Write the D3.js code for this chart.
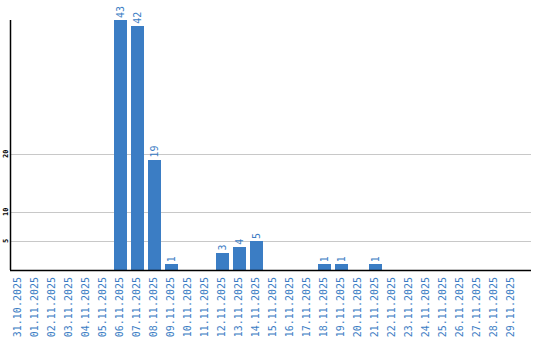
<!DOCTYPE html>
<html>
<head>
<meta charset="utf-8">
<script src="https://cdn.jsdelivr.net/npm/d3@7"></script>
<style>
  body { margin: 0; background: #fff; }
  svg { display: block; }
</style>
</head>
<body>
<svg id="chart" width="540" height="340"></svg>
<script>
// daily counts, 31.10.2025 - 29.11.2025
var days = ["31.10.2025", "01.11.2025", "02.11.2025", "03.11.2025", "04.11.2025", "05.11.2025",
	"06.11.2025", "07.11.2025", "08.11.2025", "09.11.2025", "10.11.2025", "11.11.2025",
	"12.11.2025", "13.11.2025", "14.11.2025", "15.11.2025", "16.11.2025", "17.11.2025",
	"18.11.2025", "19.11.2025", "20.11.2025", "21.11.2025", "22.11.2025", "23.11.2025",
	"24.11.2025", "25.11.2025", "26.11.2025", "27.11.2025", "28.11.2025", "29.11.2025"];
var counts = [0, 0, 0, 0, 0, 0,
	43, 42, 19, 1, 0, 0,
	3, 4, 5, 0, 0, 0,
	1, 1, 0, 1, 0, 0,
	0, 0, 0, 0, 0, 0];
var yTicks = [5, 10, 20];

var blue = "#3b7dc4";
var svg = d3.select('#chart');
// note: "top" is window.top, so use plotTop
var plotLeft = 10, plotRight = 531, bandEnd = 520, plotTop = 20, plotBottom = 270;

var x = d3.scaleBand()
	.domain(days)
	.range([plotLeft, bandEnd])
	.paddingInner(0.18)
	.paddingOuter(0.09);

var y = d3.scaleLinear()
	.domain([0, d3.max(counts)])
	.range([plotBottom, plotTop]);

// gridlines
svg.append('g').selectAll('line')
	.data(yTicks)
	.join('line')
	.attr('x1', plotLeft)
	.attr('x2', plotRight)
	.attr('y1', d => Math.round(y(d)) + 0.5)
	.attr('y2', d => Math.round(y(d)) + 0.5)
	.style('stroke', '#c8c8c8')
	.style('stroke-width', 1);

// y tick labels (rotated, tiny)
svg.append('g').selectAll('text')
	.data(yTicks)
	.join('text')
	.attr('transform', d => `translate(5.5, ${y(d)}) rotate(-90)`)
	.attr('text-anchor', 'middle')
	.attr('dominant-baseline', 'central')
	.style('font-family', 'DejaVu Sans Mono')
	.style('font-size', '7px')
	.style('font-weight', 'bold')
	.style('fill', '#000')
	.text(d => d);

// bars
svg.append('g').selectAll('rect')
	.data(counts)
	.join('rect')
	.attr('x', (d, i) => x(days[i]))
	.attr('width', x.bandwidth())
	.attr('y', d => y(d))
	.attr('height', d => plotBottom - y(d))
	.style('fill', blue)
	.attr('shape-rendering', 'crispEdges');

// value labels above bars
svg.append('g').selectAll('text')
	.data(counts.map((c, i) => ({ day: days[i], c: c })).filter(d => d.c > 0))
	.join('text')
	.attr('transform', d => `translate(${x(d.day) + x.bandwidth() / 2}, ${y(d.c) - 2}) rotate(-90)`)
	.attr('text-anchor', 'start')
	.attr('dominant-baseline', 'central')
	.style('font-family', 'DejaVu Sans Mono')
	.style('font-size', '10px')
	.style('fill', blue)
	.text(d => d.c);

// axis lines
svg.append('line')
	.attr('x1', plotLeft + 0.5).attr('x2', plotLeft + 0.5)
	.attr('y1', plotTop).attr('y2', plotBottom)
	.style('stroke', '#000').style('stroke-width', 1.5);
svg.append('line')
	.attr('x1', plotLeft).attr('x2', plotRight)
	.attr('y1', plotBottom + 0.5).attr('y2', plotBottom + 0.5)
	.style('stroke', '#000').style('stroke-width', 1.5);

// x labels
svg.append('g').selectAll('text')
	.data(days)
	.join('text')
	.attr('transform', d => `translate(${x(d) + x.bandwidth() / 2 - 1}, 277) rotate(-90)`)
	.attr('text-anchor', 'end')
	.attr('dominant-baseline', 'central')
	.style('font-family', 'DejaVu Sans Mono')
	.style('font-size', '10px')
	.style('fill', blue)
	.text(d => d);
</script>
</body>
</html>
